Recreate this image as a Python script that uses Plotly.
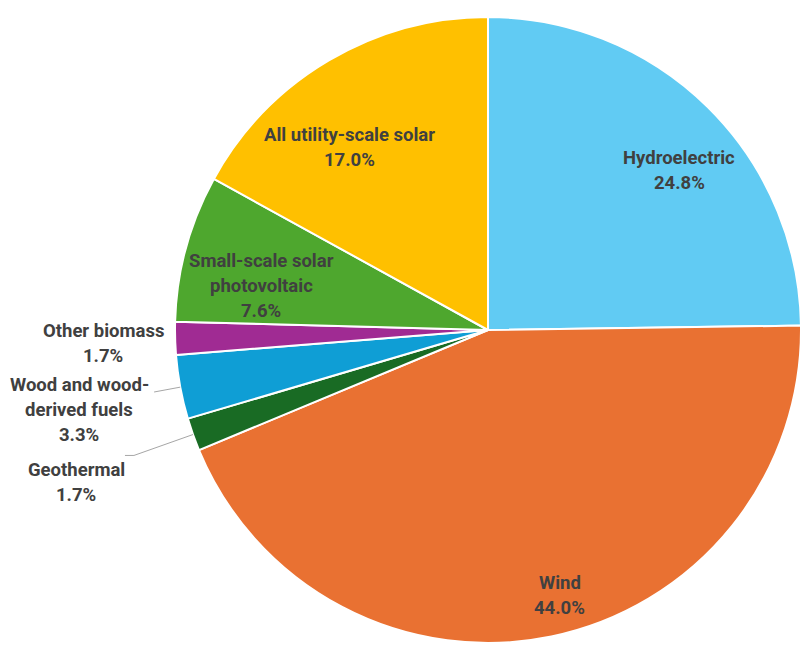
import math
import plotly.graph_objects as go

categories = ["Hydroelectric", "Wind", "Geothermal", "Wood and wood-derived fuels",
              "Other biomass", "Small-scale solar photovoltaic", "All utility-scale solar"]
values = [24.8, 44.0, 1.7, 3.3, 1.7, 7.6, 17.0]
label_lines = [["Hydroelectric"], ["Wind"], ["Geothermal"], ["Wood and wood-", "derived fuels"],
               ["Other biomass"], ["Small-scale solar", "photovoltaic"], ["All utility-scale solar"]]
colors = ["#61CBF3", "#E97132", "#196B24", "#0F9ED5", "#A02B93", "#4EA72E", "#FFC000"]

# label layout (style): radial factor and angular tweak per slice
label_rf = [0.78, 0.865, 1.39, 1.32, 1.22, 0.735, 0.725]
label_dang = [5.3, -3.1, -0.7, -0.5, -0.4, -4.4, -7.0]
# leader lines: (elbow radial factor, horizontal tail px) or None
leaders = [None, None, (1.2, 9), (1.085, 0), None, None, None]

W, H = 801, 645
CX, CY, R = 488, 330, 313          # pie geometry in px (limited by paper edge)
LCX, LCY, LR = 490, 330, 317       # geometry used for label placement
LINE_PITCH = 25
FONT = dict(family="Roboto, Lato, sans-serif", size=18.5, color="#404040")

fig = go.Figure(go.Pie(
    labels=categories, values=values, sort=False, direction="clockwise", rotation=0,
    marker=dict(colors=colors, line=dict(color="white", width=2)),
    textinfo="none", hoverinfo="label+percent", showlegend=False,
    domain=dict(x=[(CX - R) / W, min(1, (CX + R) / W)],
                y=[max(0, (H - (CY + R)) / H), (H - (CY - R)) / H]),
))

def to_paper(px, py):
    return px / W, 1 - py / H

total = sum(values)
cum = 0.0
annotations, shapes = [], []
for i, v in enumerate(values):
    mid = (cum + v / 2) / total * 360.0
    cum += v
    ang = math.radians(mid + label_dang[i])
    bx = LCX + label_rf[i] * LR * math.sin(ang)
    by = LCY - label_rf[i] * LR * math.cos(ang)
    lines = label_lines[i] + [f"{v:.1f}%"]
    n = len(lines)
    for k, t in enumerate(lines):
        ly = by + (k - (n - 1) / 2) * LINE_PITCH
        x, y = to_paper(bx, ly)
        annotations.append(dict(x=x, y=y, xref="paper", yref="paper", text=f"<b>{t}</b>",
                                showarrow=False, xanchor="center", yanchor="middle", font=FONT))
    if leaders[i]:
        rf, tail = leaders[i]
        m = math.radians(mid)
        ex, ey = CX + R * math.sin(m), CY - R * math.cos(m)
        kx, ky = CX + rf * R * math.sin(m), CY - rf * R * math.cos(m)
        tx, ty = kx - tail, ky
        pts = [to_paper(ex, ey), to_paper(kx, ky), to_paper(tx, ty)]
        path = "M {} {} L {} {} L {} {}".format(*[c for p in pts for c in p])
        shapes.append(dict(type="path", path=path, xref="paper", yref="paper",
                           line=dict(color="#A6A6A6", width=1)))

fig.update_layout(width=W, height=H, margin=dict(l=0, r=0, t=0, b=0),
                  paper_bgcolor="white", plot_bgcolor="white",
                  annotations=annotations, shapes=shapes)
fig.write_html("out.html")
